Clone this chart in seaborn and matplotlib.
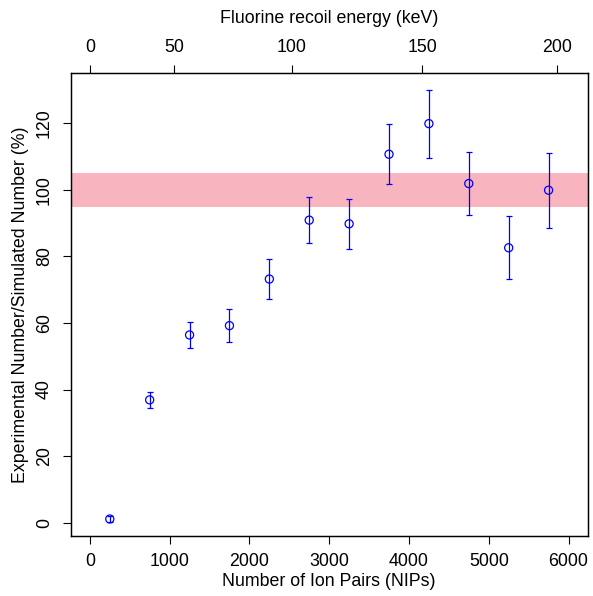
import matplotlib
matplotlib.use("Agg")
import matplotlib.pyplot as plt
import seaborn as sns
import pandas as pd

# Data
nips = [250, 750, 1250, 1750, 2250, 2750, 3250, 3750, 4250, 4750, 5250, 5750]
ratio = [1.1, 36.9, 56.4, 59.2, 73.2, 90.9, 89.8, 110.7, 119.9, 101.9, 82.6, 99.9]
err = [0.8, 2.4, 3.9, 5.0, 6.0, 7.0, 7.6, 9.0, 10.2, 9.5, 9.4, 11.3]
band_low, band_high = 95, 105
bottom_ticks = [0, 1000, 2000, 3000, 4000, 5000, 6000]
y_ticks = [0, 20, 40, 60, 80, 100, 120]
top_tick_labels = ["0", "50", "100", "150", "200"]
top_tick_nips = [0, 1052, 2528, 4166, 5856]

df = pd.DataFrame({"nips": nips, "ratio": ratio, "err": err})

sns.set_theme(style="white")
plt.rcParams["font.family"] = ["Liberation Sans", "DejaVu Sans"]
plt.rcParams["text.color"] = "black"
plt.rcParams["axes.labelcolor"] = "black"

FS = 12.8
fig = plt.figure(figsize=(5.93, 5.96), dpi=100)
ax = fig.add_axes([0.1192, 0.1007, 0.991 - 0.1192, 0.878 - 0.1007])

ax.axhspan(band_low, band_high, color="#F8B4BF", lw=0, zorder=0)

ax.errorbar(df["nips"], df["ratio"], yerr=df["err"], fmt="none", ecolor="blue",
            elinewidth=0.9, capsize=2.3, capthick=0.9, zorder=2)
sns.scatterplot(data=df, x="nips", y="ratio", ax=ax, marker="o", s=34,
                color="blue", linewidth=0.9, zorder=3)
for coll in ax.collections:
    if coll.get_offsets().shape[0] == len(nips) and hasattr(coll, "get_sizes") and len(coll.get_sizes()) > 0:
        coll.set_facecolor("none")
        coll.set_edgecolor("blue")

ax.set_xlim(-240, 6240)
ax.set_ylim(-4.0, 135.2)
ax.set_xticks(bottom_ticks)
ax.set_xticklabels([str(t) for t in bottom_ticks])
ax.set_yticks(y_ticks)
ax.set_yticklabels([str(t) for t in y_ticks], rotation=90, va="center")
ax.set_xlabel("Number of Ion Pairs (NIPs)", fontsize=FS, labelpad=2, color="black")
ax.set_ylabel("Experimental Number/Simulated Number (%)", fontsize=FS, labelpad=5, color="black")

for s in ax.spines.values():
    s.set_visible(True)
    s.set_color("black")
    s.set_linewidth(0.9)

ax.tick_params(axis="both", direction="out", length=5.8, width=0.8, colors="black",
               labelcolor="black", labelsize=FS, left=True, bottom=True)
ax.tick_params(axis="x", pad=6.5)
ax.tick_params(axis="y", pad=7)

ax2 = ax.twiny()
ax2.set_xlim(ax.get_xlim())
ax2.set_xticks(top_tick_nips)
ax2.set_xticklabels(top_tick_labels)
ax2.set_xlabel("Fluorine recoil energy (keV)", fontsize=FS, labelpad=11, color="black")
ax2.tick_params(axis="x", direction="out", length=5.8, width=0.8, colors="black",
                labelcolor="black", labelsize=FS, pad=6.5, top=True)
for s in ax2.spines.values():
    s.set_visible(True)
    s.set_color("black")
    s.set_linewidth(0.9)

fig.savefig("out.png", dpi=100)
